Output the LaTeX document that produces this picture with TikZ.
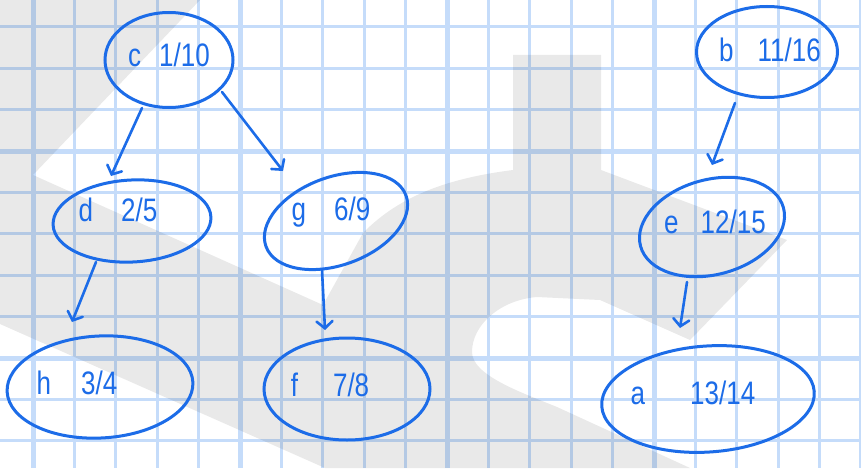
\documentclass[tikz,border=0pt]{standalone}
\usepackage{fontspec}
\setmainfont{Liberation Sans}
\usetikzlibrary{arrows.meta,shapes.geometric}
\definecolor{ink}{RGB}{28,108,232}
\definecolor{gridc}{RGB}{197,220,250}
\newcommand{\hw}[1]{\scalebox{1}[1.25]{#1}}
\begin{document}
\begin{tikzpicture}[x=1pt,y=1pt,
  blob/.style={draw=ink, line width=3pt, ellipse, inner sep=0pt},
  lbl/.style={text=ink, font=\fontsize{26}{26}\selectfont, inner sep=0pt},
  arr/.style={draw=ink, line width=2.6pt, line cap=round, -{Straight Barb[length=7pt,width=16pt,line cap=round]}},
  gthin/.style={gridc, line width=3.2pt},
  gthick/.style={gridc, line width=5pt}]
\useasboundingbox (0,0) rectangle (861,-468);
\clip (0,0) rectangle (861,-468);
\fill[white] (0,0) rectangle (861,-468);
% grid
\foreach \k in {0,...,20} { \draw[gthin] ({33+41.4*\k},0) -- ({33+41.4*\k},-468); }
\foreach \k in {0,...,10} { \draw[gthin] (0,{-(26.8+41.4*\k)}) -- (861,{-(26.8+41.4*\k)}); }
\foreach \xx in {33,240,447,654,861} { \draw[gthick] (\xx,0) -- (\xx,-468); }
\foreach \yy in {151,358} { \draw[gthick] (0,-\yy) -- (861,-\yy); }
% watermark
\fill[black, opacity=0.086] (0,0) -- (200,0) -- (33,-175) -- (323,-305) -- (363,-233)
  .. controls (400,-195) and (450,-178) .. (513,-170) -- (513,-55) -- (601,-55) -- (601,-170)
  -- (787,-240) -- (690,-340) -- (600,-300) -- (537,-297)
  .. controls (500,-300) and (472,-325) .. (472,-352)
  .. controls (472,-375) and (520,-392) .. (557,-407) -- (690,-468) -- (325,-468) -- (0,-324) -- cycle;
% nodes
\node[blob, minimum width=128pt, minimum height=95pt] (c) at (169,-60) {};
\node[blob, minimum width=158pt, minimum height=82pt, rotate=3] (d) at (132,-221) {};
\node[blob, minimum width=149pt, minimum height=88pt, rotate=20] (g) at (336,-221) {};
\node[blob, minimum width=186pt, minimum height=102pt, rotate=3] (h) at (100,-387) {};
\node[blob, minimum width=166pt, minimum height=102pt] (f) at (347,-389) {};
\node[blob, minimum width=141pt, minimum height=91pt] (b) at (767,-52) {};
\node[blob, minimum width=148pt, minimum height=95pt, rotate=15] (e) at (712,-227) {};
\node[blob, minimum width=213pt, minimum height=106pt, rotate=4] (a) at (708,-399) {};
% labels
\node[lbl] (cl) at (169,-55) {\hw{c\hspace{18pt}1/10}};
\node[lbl] (dl) at (118,-210) {\hw{d\hspace{28pt}2/5}};
\node[lbl] (gl) at (331,-212) {\hw{g\hspace{28pt}6/9}};
\node[lbl] (hl) at (77,-383) {\hw{h\hspace{30pt}3/4}};
\node[lbl] (fl) at (330,-385) {\hw{f\hspace{35pt}7/8}};
\node[lbl] (bl) at (770,-50) {\hw{b\hspace{24pt}11/16}};
\node[lbl] (el) at (715,-222) {\hw{e\hspace{22pt}12/15}};
\node[lbl] (al) at (693,-393) {\hw{a\hspace{45pt}13/14}};
% arrows
\draw[arr] ([shift={(-27,-48)}]c.center) -- ([shift={(-21,45)}]d.center);
\draw[arr] ([shift={(53,-32)}]c.center) -- ([shift={(-53,50)}]g.center);
\draw[arr] ([shift={(-36,-41)}]d.center) -- ([shift={(-28,65)}]h.center);
\draw[arr] ([shift={(-14,-49)}]g.center) -- ([shift={(-22,59)}]f.center);
\draw[arr] ([shift={(-32,-51)}]b.center) -- ([shift={(0,62)}]e.center);
\draw[arr] ([shift={(-25,-55)}]e.center) -- ([shift={(-28,71)}]a.center);
\end{tikzpicture}
\end{document}
